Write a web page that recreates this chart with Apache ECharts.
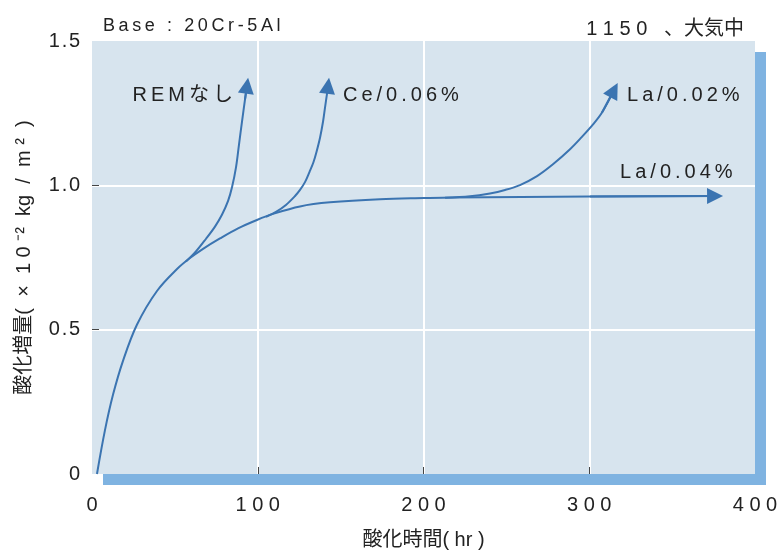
<!DOCTYPE html>
<html>
<head>
<meta charset="utf-8">
<script src="https://cdn.jsdelivr.net/npm/echarts@6/dist/echarts.min.js"></script>
<style>html,body{margin:0;padding:0;background:#fff}#c{width:784px;height:555px}</style>
</head>
<body>
<div id="c"></div>
<script>
// ---- data ----
const xTicks = [0, 100, 200, 300, 400];
const yTicks = [0, 0.5, 1.0, 1.5];
const xTickMarks = [100, 200, 300];
const yTickMarks = [0.5, 1.0];

// common trunk, continues as La/0.04%
const trunkX = [3.0, 7.8, 12.7, 18.7, 27.1, 39.2, 51.3, 59.1, 67.0, 77.2, 88.1, 99.5, 109.2, 125.5, 143.6, 173.8, 200.3, 217.8, 300.5, 375.9];
const trunkY = [0, 0.151, 0.275, 0.392, 0.517, 0.634, 0.710, 0.748, 0.780, 0.816, 0.851, 0.880, 0.901, 0.927, 0.941, 0.952, 0.956, 0.958, 0.961, 0.963];
// REMなし branch
const remX = [56.7, 62.7, 68.8, 74.2, 78.4, 82.1, 84.5, 86.9, 88.7, 90.5, 92.3, 93.5];
const remY = [0.736, 0.771, 0.815, 0.857, 0.898, 0.946, 0.994, 1.063, 1.142, 1.221, 1.297, 1.345];
// Ce/0.06% branch
const ceX = [105.0, 111.0, 117.0, 122.5, 125.5, 128.5, 131.2, 133.6, 135.4, 137.6, 139.4, 140.6, 141.8, 142.4];
const ceY = [0.891, 0.908, 0.932, 0.963, 0.984, 1.011, 1.046, 1.080, 1.115, 1.166, 1.221, 1.270, 1.318, 1.345];
// La/0.02% branch
const la02X = [213.0, 228.1, 240.1, 249.2, 258.2, 268.5, 278.1, 288.4, 295.6, 302.3, 307.7, 314.9];
const la02Y = [0.957, 0.962, 0.972, 0.984, 1.001, 1.032, 1.073, 1.125, 1.168, 1.211, 1.252, 1.330];

// label anchor (data coordinates) for each curve label
const labelAt = { 'REMなし': [85, 1.31], 'Ce/0.06%': [151.4, 1.31], 'La/0.02%': [322.8, 1.31], 'La/0.04%': [318.6, 1.046] };

const titleLeft = 'Base : 20Cr-5Al';
const titleRight = '1 1 5 0   、大気中';
const xName = '酸化時間( hr )';
const yName = '酸化増量(  ×  1 0 ⁻²  kg  /  m ²  )';

// ---- build ----
const FONT = "'Liberation Sans', 'Noto Sans CJK JP', sans-serif";
const LINE = '#3b74b1';
const TXT = '#222';
const THIN = '\u2009';
const HAIR = '\u200A';
const spaced = (s, sep) => Array.from(s).join(sep);
const zip = (xs, ys) => xs.map((x, i) => [x, ys[i]]);

const curves = [
  { name: 'La/0.04%', data: zip(trunkX, trunkY) },
  { name: 'REMなし', data: zip(remX, remY) },
  { name: 'Ce/0.06%', data: zip(ceX, ceY) },
  { name: 'La/0.02%', data: zip(la02X, la02Y) }
];

const series = [];
curves.forEach(c => {
  const lab = labelAt[c.name];
  const leftSide = c.name === 'REMなし';
  series.push({
    type: 'line', name: c.name, data: c.data, smooth: 0.35, symbol: 'none',
    lineStyle: { color: LINE, width: 2 }, silent: true, z: 3,
    markPoint: {
      symbolSize: 0, silent: true,
      data: [{ coord: lab }],
      label: {
        show: true, position: leftSide ? 'left' : 'right', distance: 0,
        formatter: () => spaced(c.name, THIN),
        color: TXT, fontSize: 20, fontFamily: FONT
      }
    }
  });
  const n = c.data.length;
  series.push({
    type: 'lines', coordinateSystem: 'cartesian2d', silent: true, z: 4,
    symbol: ['none', 'triangle'], symbolSize: 16,
    lineStyle: { color: LINE, width: 2, opacity: 1 },
    data: [{ coords: [c.data[n - 2], c.data[n - 1]] }]
  });
});

const chart = echarts.init(document.getElementById('c'), null, { renderer: 'canvas' });
chart.setOption({
  animation: false,
  backgroundColor: '#ffffff',
  textStyle: { fontFamily: FONT },
  title: [
    { text: spaced(titleLeft, THIN), left: 98, top: 12,
      textStyle: { fontSize: 18, fontWeight: 'normal', color: TXT, fontFamily: FONT } },
    { text: titleRight, right: 35, top: 14,
      textStyle: { fontSize: 20, fontWeight: 'normal', color: TXT, fontFamily: FONT } }
  ],
  grid: {
    left: 92, right: 29, top: 41, bottom: 78, show: true,
    backgroundColor: '#d7e4ee', borderWidth: 0,
    shadowColor: '#7fb3e1', shadowBlur: 0, shadowOffsetX: 11, shadowOffsetY: 11
  },
  xAxis: {
    type: 'value', min: xTicks[0], max: xTicks[xTicks.length - 1], interval: 100,
    name: xName, nameLocation: 'middle', nameGap: 56,
    nameTextStyle: { fontSize: 20, color: TXT, fontFamily: FONT },
    axisLine: { show: false },
    axisTick: { show: true, inside: true, length: 7, customValues: xTickMarks, lineStyle: { color: '#444', width: 1 } },
    axisLabel: { margin: 21, fontSize: 20, color: TXT, fontFamily: FONT,
      customValues: xTicks, formatter: v => spaced(String(v), ' ') },
    splitLine: { show: true, lineStyle: { color: '#ffffff', width: 2 } }
  },
  yAxis: {
    type: 'value', min: yTicks[0], max: yTicks[yTicks.length - 1], interval: 0.5,
    name: yName, nameLocation: 'middle', nameGap: 58, nameRotate: 90,
    nameTextStyle: { fontSize: 20, color: TXT, fontFamily: FONT },
    axisLine: { show: false },
    axisTick: { show: true, inside: true, length: 7, customValues: yTickMarks, lineStyle: { color: '#444', width: 1 } },
    axisLabel: { margin: 12, fontSize: 20, color: TXT, fontFamily: FONT,
      customValues: yTicks, formatter: v => v === 0 ? '0' : spaced(v.toFixed(1), HAIR) },
    splitLine: { show: true, lineStyle: { color: '#ffffff', width: 2 } }
  },
  series: series
});
</script>
</body>
</html>
